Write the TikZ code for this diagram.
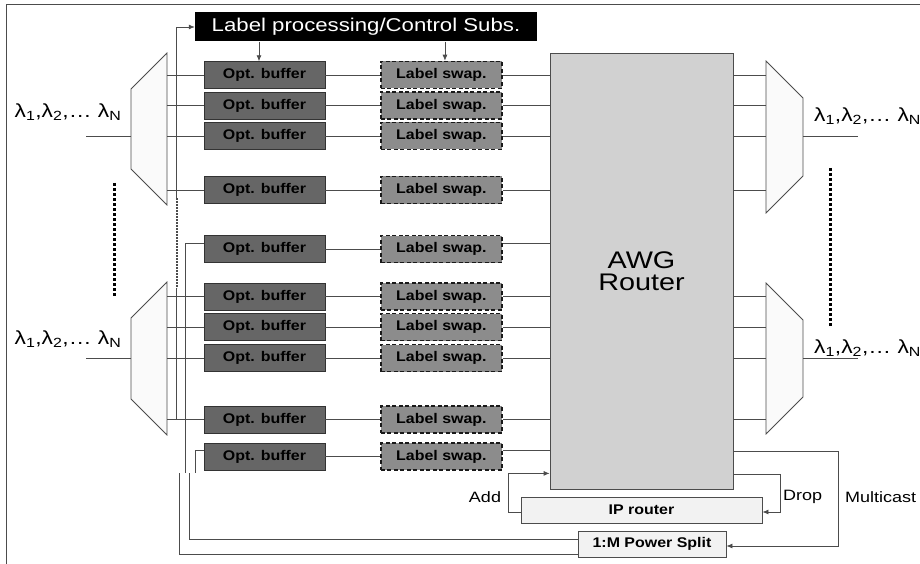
\documentclass[tikz,border=0pt]{standalone}
\usepackage{fontspec}
\setmainfont{Liberation Sans}[FakeStretch=1.2, BoldFeatures={FakeStretch=1.14}]
\usetikzlibrary{arrows.meta,positioning,calc}
\newcommand{\fs}[1]{\fontsize{#1}{#1}\selectfont}
\tikzset{
  wire/.style={draw=black!70, line width=0.8pt},
  sig/.style={wire, -{Latex[length=6pt,width=5pt]}},
  blk/.style={inner sep=1pt, align=center, font=\bfseries\fs{14}},
  buf/.style={blk, draw=black!80, fill=black!60, minimum width=121pt,
              minimum height=27pt},
  swp/.style={blk, draw=black!90, fill=black!45, line width=1.5pt,
              dash pattern=on 4pt off 2.5pt, minimum width=121pt,
              minimum height=27pt},
  sub/.style={blk, draw=black!70, fill=black!5, line width=0.8pt,
              minimum height=26pt},
  dmx/.style={wire, fill=black!2},
  lam/.style={inner sep=0pt, font=\fs{19}},
  txt/.style={inner sep=0pt, font=\fs{15}},
  bigdots/.style={line width=3pt, dash pattern=on 3pt off 2pt},
}
\newcommand{\lams}{λ\textsubscript{1},λ\textsubscript{2},… λ\textsubscript{N}}

\begin{document}
\begin{tikzpicture}[x=1pt,y=-1pt]
  \useasboundingbox (0,0) rectangle (920,564);
  \draw[draw=black!70, line width=1pt] (920,5) -- (6,5) -- (6,564);

  \node[fill=black, text=white, minimum width=342pt, minimum height=29pt,
        inner sep=0pt, font=\fs{18.5}] (lp) at (366,27) {Label processing/Control Subs.};

  % buffer and swap rows
  \foreach \i/\y in {1/75,2/105.5,3/136,4/190,5/249,6/296.5,7/327,8/358,
                     9/419.5,10/456.5}{
    \node[buf] (b\i) at (264.5,\y) {Opt. buffer};
    \node[swp, right=55pt of b\i] (s\i) {Label swap.};
    \draw[wire] (b\i) -- (s\i);
  }

  \node[draw=black!70, line width=0.8pt, fill=black!18, minimum width=183pt,
        minimum height=436pt, font=\fs{24}, align=center] (awg) at (641.5,271)
        {AWG\\[-2pt]Router};
  \node[sub, minimum width=241pt] (ip) at (641.5,510) {IP router};
  \node[sub, minimum width=148pt] (ps) at (652,544) {1:M Power Split};

  % demultiplexers
  \draw[dmx] (131,89) -- (167,53) -- (167,205) -- (131,169) -- cycle;
  \draw[dmx] (131,318) -- (167,282) -- (167,435) -- (131,399) -- cycle;
  \draw[dmx] (766,61) -- (803,98) -- (803,176) -- (766,213) -- cycle;
  \draw[dmx] (766,283) -- (803,320) -- (803,397) -- (766,434) -- cycle;
  \coordinate (dl1) at (167,53);
  \coordinate (dl2) at (167,282);
  \coordinate (dr1) at (766,61);
  \coordinate (dr2) at (766,283);
  \coordinate (inl1) at (131,136);
  \coordinate (inl2) at (131,358);
  \coordinate (outr1) at (803,136);
  \coordinate (outr2) at (803,358);

  \draw[wire] (inl1) -- ++(-45,0);
  \draw[wire] (inl2) -- ++(-45,0);
  \draw[wire] (outr1) -- ++(55,0);
  \draw[wire] (outr2) -- ++(55,0);
  \node[lam] (l1) at (68,112) {\lams};
  \node[lam] (l2) at (68,339) {\lams};
  \node[lam, anchor=west] (r1) at (814,116) {\lams};
  \node[lam, anchor=west] (r2) at (814,348) {\lams};

  \foreach \i in {1,...,4}{
    \draw[wire] (dl1 |- b\i) -- (b\i);
    \draw[wire] (awg.east |- b\i) -- (dr1 |- b\i);
  }
  \foreach \i in {6,...,9}{
    \draw[wire] (dl2 |- b\i) -- (b\i);
    \draw[wire] (awg.east |- b\i) -- (dr2 |- b\i);
  }
  \foreach \i in {1,2,3,4,6,7,8,9}
    \draw[wire] (s\i) -- (awg.west |- s\i);
  \draw[wire] ([yshift=6pt]s5.east) -- ([yshift=6pt]s5.east -| awg.west);
  \draw[wire] ([yshift=6pt]s10.east) -- ([yshift=6pt]s10.east -| awg.west);

  \draw[bigdots] (114,183) -- (114,297);
  \draw[bigdots] (830,168) -- (830,326);

  % control taps
  \coordinate (tapt) at (176.7,198);
  \coordinate (tapb) at (176.7,288);
  \draw[sig] (tapt) |- (lp.west);
  \draw[wire, line width=1.6pt, dash pattern=on 1.6pt off 1.4pt] (tapt) -- (tapb);
  \draw[wire] (tapb) -- (tapb |- b9);
  \draw[sig] ([xshift=-5.5pt]b1.north |- lp.south) -- ([xshift=-5.5pt]b1.north);
  \draw[sig] ([xshift=3.5pt]s1.north |- lp.south) -- ([xshift=3.5pt]s1.north);

  % local ports
  \coordinate (m5) at (185.7,473);
  \coordinate (m10) at (195.7,473);
  \coordinate (p1) at (179,473);
  \coordinate (p2) at (189,473);
  \draw[wire] ([yshift=6pt]b5.west) -| (m5);
  \draw[wire] ([yshift=6pt]b10.west) -| (m10);
  \draw[wire] (p1) |- ([yshift=-10pt]ps.west);
  \draw[wire] (p2) |- ([yshift=5pt]ps.west);

  \draw[sig] ([yshift=-2pt]ip.west) -- ++(-12,0) |- ([yshift=16pt]awg.south west);
  \draw[sig] ([yshift=15pt]awg.south east) -- ++(47,0) |- ([yshift=-2pt]ip.east);
  \draw[sig] ([yshift=38pt]awg.south east) -- ++(105,0) |- ([yshift=-2pt]ps.east);
  \node[txt] (add) at (485,497) {Add};
  \node[txt, anchor=west] (drop) at (783,497) {Drop};
  \node[txt, anchor=west] (mc) at (845,497) {Multicast};
\end{tikzpicture}
\end{document}
